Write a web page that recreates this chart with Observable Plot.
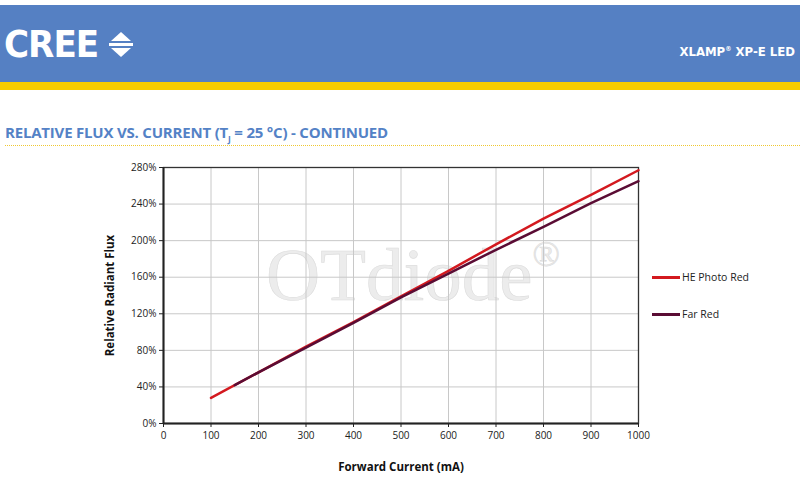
<!DOCTYPE html>
<html><head><meta charset="utf-8">
<script src="https://cdn.jsdelivr.net/npm/d3@7"></script>
<script src="https://cdn.jsdelivr.net/npm/@observablehq/plot@0.6"></script>
<style>
body{margin:0;background:#fff;font-family:"Open Sans",sans-serif;}
#page{position:relative;width:800px;height:490px;overflow:hidden;background:#fff;}
#header{position:absolute;left:0;top:5px;width:800px;height:77px;background:#5580c3;}
#stripe{position:absolute;left:0;top:82px;width:800px;height:8px;background:#f7cd00;}
#logo{position:absolute;left:4px;top:22px;color:#fff;font-family:"DejaVu Sans",sans-serif;font-stretch:condensed;font-weight:bold;font-size:38px;letter-spacing:-1px;line-height:44px;}
#logosym{position:absolute;left:108px;top:32px;}
#product{position:absolute;right:5px;top:44px;color:#fff;font-family:"DejaVu Sans",sans-serif;font-stretch:condensed;font-weight:bold;font-size:13px;}
#product sup{font-size:7px;}
#title{position:absolute;left:5px;top:122px;color:#5482c6;font-family:"Open Sans",sans-serif;font-weight:bold;font-size:15px;letter-spacing:-0.2px;white-space:nowrap;}
#title sub{font-size:8.5px;}
#dots{position:absolute;left:5px;top:145px;width:795px;border-top:1.5px dotted #f0c832;}
#wm{position:absolute;left:266px;top:232px;font-family:"Liberation Serif","DejaVu Serif",serif;font-size:75px;color:#ececec;-webkit-text-stroke:0.6px #dcdcdc;white-space:nowrap;z-index:0;}
#wm sup{font-size:36px;vertical-align:34px;}
#chart{position:absolute;left:0;top:150px;z-index:1;}
#legend{position:absolute;left:652px;top:268px;z-index:2;font-family:"Open Sans",sans-serif;font-size:10.5px;color:#222;}
.li{display:flex;align-items:center;height:18px;margin-bottom:19px;}
.sw{width:28px;height:3px;margin-right:2px;}
g[aria-label="x-axis label"] text, g[aria-label="y-axis label"] text{font-weight:bold;font-size:11.5px;fill:#111;}
</style></head>
<body>
<div id="page">
  <div id="header"></div>
  <div id="stripe"></div>
  <div id="logo">CREE</div>
  <svg id="logosym" width="28" height="26" viewBox="0 0 28 26">
    <polygon points="3,9 13,0 23,9" fill="#fff"/>
    <rect x="1" y="11" width="24" height="3" fill="#fff"/>
    <polygon points="3,16 13,25 23,16" fill="#fff"/>
  </svg>
  <div id="product">XLAMP<sup>®</sup> XP-E LED</div>
  <div id="title">RELATIVE FLUX VS. CURRENT (T<sub>J</sub> = 25 °C) - CONTINUED</div>
  <div id="dots"></div>
  <div id="wm">OTdiode<sup>®</sup></div>
  <div id="chart"></div>
  <div id="legend"></div>
</div>
<script>
const seriesNames = ["HE Photo Red", "Far Red"];
const seriesColors = ["#d3191f", "#5a0c34"];
const heCurrent = [100, 200, 300, 400, 500, 600, 700, 800, 900, 1000];
const heFlux = [28, 56, 84, 111, 139, 167, 196, 224, 250, 277];
const farCurrent = [150, 200, 300, 400, 500, 600, 700, 800, 900, 1000];
const farFlux = [42, 56, 83, 110, 138, 164, 190, 215, 241, 265];
const xTicks = [0, 100, 200, 300, 400, 500, 600, 700, 800, 900, 1000];
const yTicks = [0, 40, 80, 120, 160, 200, 240, 280];

const heData = heCurrent.map((c, i) => ({current: c, flux: heFlux[i]}));
const farData = farCurrent.map((c, i) => ({current: c, flux: farFlux[i]}));

const chart = Plot.plot({
  width: 800,
  height: 340,
  marginLeft: 163,
  marginRight: 162,
  marginTop: 17,
  marginBottom: 67,
  style: {fontFamily: "'Open Sans', sans-serif", fontSize: "10px", background: "transparent", color: "#222"},
  x: {domain: [0, 1000]},
  y: {domain: [0, 280]},
  marks: [
    Plot.gridX(xTicks, {stroke: "#c8c8c8", strokeOpacity: 1, strokeWidth: 1}),
    Plot.gridY(yTicks, {stroke: "#c8c8c8", strokeOpacity: 1, strokeWidth: 1}),
    Plot.frame({stroke: "#333", strokeWidth: 1.3}),
    Plot.ruleX([0], {stroke: "#222", strokeWidth: 2}),
    Plot.ruleY([0], {stroke: "#222", strokeWidth: 2}),
    Plot.axisX({ticks: xTicks, tickSize: 4, tickPadding: 4, tickFormat: d => String(d), label: "Forward Current (mA)", labelAnchor: "center", labelArrow: "none", labelOffset: 47}),
    Plot.axisY({ticks: yTicks, tickSize: 4, tickPadding: 3, tickFormat: d => d + "%", label: "Relative Radiant Flux", labelAnchor: "center", labelArrow: "none", labelOffset: 58}),
    Plot.line(heData, {x: "current", y: "flux", stroke: seriesColors[0], strokeWidth: 2.5}),
    Plot.line(farData, {x: "current", y: "flux", stroke: seriesColors[1], strokeWidth: 2.5})
  ]
});
document.getElementById("chart").appendChild(chart);

const legend = document.getElementById("legend");
seriesNames.forEach((n, i) => {
  const row = document.createElement("div");
  row.className = "li";
  const sw = document.createElement("div");
  sw.className = "sw";
  sw.style.background = seriesColors[i];
  const t = document.createElement("span");
  t.textContent = n;
  row.appendChild(sw); row.appendChild(t);
  legend.appendChild(row);
});
</script>
</body></html>
